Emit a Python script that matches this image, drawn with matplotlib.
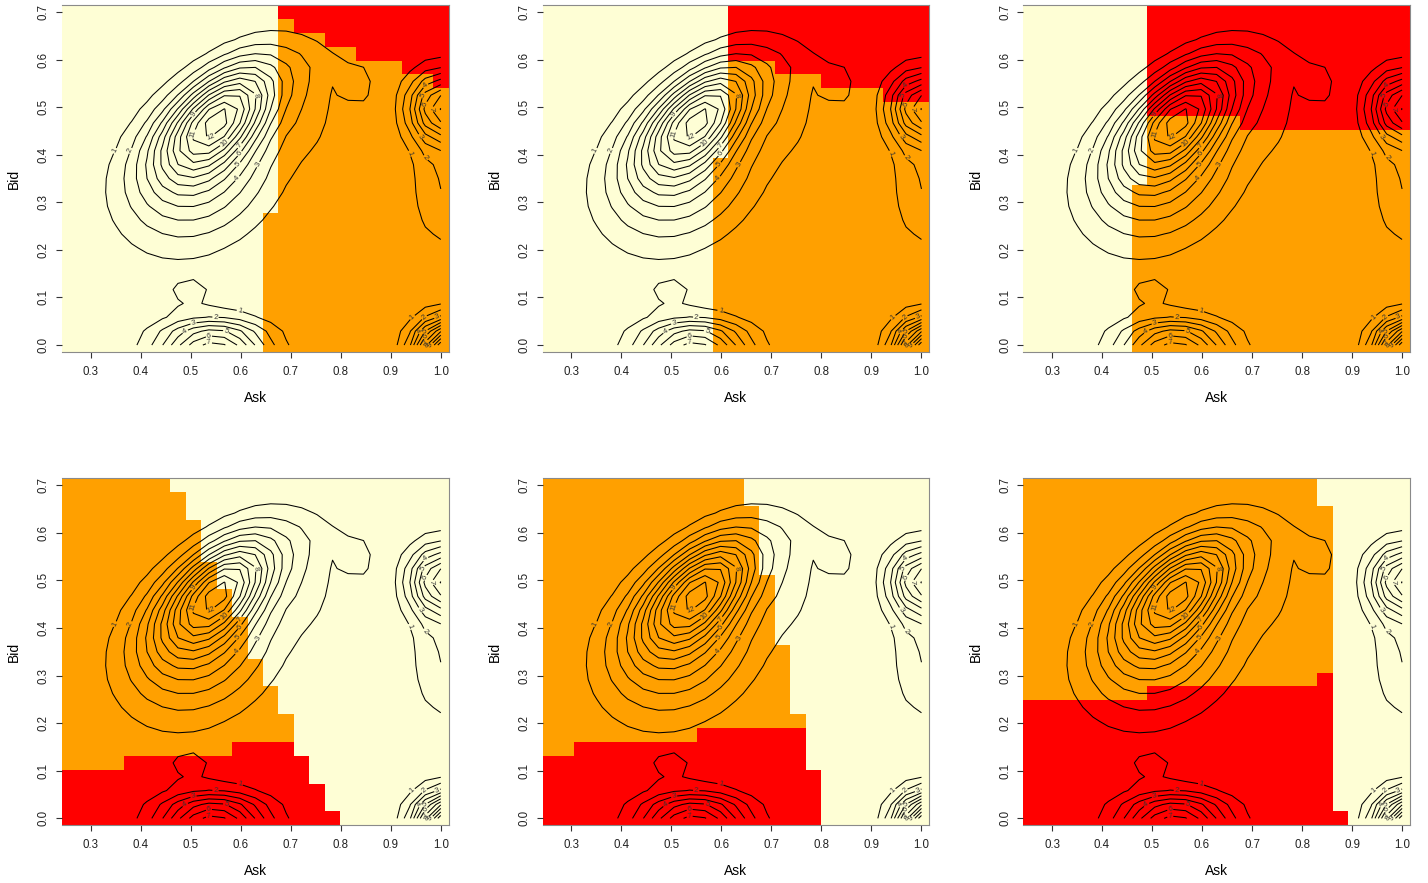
import numpy as np
import matplotlib
matplotlib.use("Agg")
import matplotlib.pyplot as plt
from matplotlib.colors import ListedColormap

plt.rcParams['font.family'] = ['Liberation Sans', 'DejaVu Sans']

# 25 x 25 grid shared by the class maps and the density
ask_grid = np.linspace(0.258, 1.0, 25)
bid_grid = np.linspace(0.0, 0.70, 25)

# class maps, top row first, run-length coded ("14Y 11R" = 14 pale cells, 11 red)
panel_1 = ["14Y 11R", "14Y 1O 10R", "14Y 3O 8R", "14Y 5O 6R", "14Y 8O 3R",
           "14Y 10O 1R"] + ["14Y 11O"] * 9 + ["13Y 12O"] * 10
panel_2 = ["12Y 13R"] * 4 + ["12Y 3O 10R", "12Y 6O 7R", "12Y 10O 3R"] + \
          ["12Y 13O"] * 4 + ["11Y 14O"] * 14
panel_3 = ["8Y 17R"] * 8 + ["8Y 6O 11R"] + ["8Y 17O"] * 4 + ["7Y 18O"] * 12
panel_4 = ["7O 18Y"] + ["8O 17Y"] * 2 + ["9O 16Y"] * 3 + ["10O 15Y"] * 2 + \
          ["11O 14Y"] * 2 + ["12O 13Y"] * 3 + ["13O 12Y"] * 2 + ["14O 11Y"] * 2 + \
          ["15O 10Y"] * 2 + ["11O 4R 10Y", "4O 12R 9Y", "16R 9Y", "17R 8Y", "17R 8Y", "18R 7Y"]
panel_5 = ["13O 12Y"] * 2 + ["14O 11Y"] * 5 + ["15O 10Y"] * 5 + ["16O 9Y"] * 5 + \
          ["17O 8Y", "10O 7R 8Y", "2O 15R 8Y", "17R 8Y"] + ["18R 7Y"] * 4
panel_6 = ["19O 6Y"] * 2 + ["20O 5Y"] * 12 + ["19O 1R 5Y", "8O 12R 5Y"] + \
          ["20R 5Y"] * 8 + ["21R 4Y"]
panels = [panel_1, panel_2, panel_3, panel_4, panel_5, panel_6]

class_codes = {'R': 0, 'O': 1, 'Y': 2}
class_colors = ['#FF0000', '#FFA000', '#FEFED5']

# density bumps
bump_ask = [0.56, 0.52, 0.74, 0.77, 0.835, 0.545, 0.50, 1.00, 1.00, 1.01]
bump_bid = [0.483, 0.36, 0.50, 0.60, 0.545, 0.0, 0.11, 0.50, 0.34, -0.01]
bump_su = [0.10, 0.115, 0.045, 0.055, 0.022, 0.075, 0.03, 0.044, 0.042, 0.042]
bump_sv = [0.052, 0.09, 0.08, 0.035, 0.035, 0.036, 0.02, 0.05, 0.10, 0.042]
bump_angle = [45, 45, 0, 0, 0, 0, 0, 0, 0, 0]
bump_height = [10.3, 4.5, 1.0, 0.6, 1.5, 7.4, 1.4, 7.5, 2.0, 12.5]
contour_levels = list(range(1, 15))

x_ticks = [0.3, 0.4, 0.5, 0.6, 0.7, 0.8, 0.9, 1.0]
y_ticks = [0.0, 0.1, 0.2, 0.3, 0.4, 0.5, 0.6, 0.7]


def decode(rows):
    out = []
    for row in rows[::-1]:
        cells = []
        for tok in row.split():
            cells += [class_codes[tok[-1]]] * int(tok[:-1])
        out.append(cells)
    return np.array(out)


X, Y = np.meshgrid(ask_grid, bid_grid)
dens = np.zeros_like(X)
for cx, cy, su, sv, ang, h in zip(bump_ask, bump_bid, bump_su, bump_sv, bump_angle, bump_height):
    a = np.deg2rad(ang)
    dx, dy = X - cx, Y - cy
    u = dx * np.cos(a) + dy * np.sin(a)
    v = -dx * np.sin(a) + dy * np.cos(a)
    dens += h * np.exp(-0.5 * ((u / su) ** 2 + (v / sv) ** 2))

step_x = ask_grid[1] - ask_grid[0]
step_y = bid_grid[1] - bid_grid[0]
ask_edges = np.append(ask_grid - step_x / 2, ask_grid[-1] + step_x / 2)
bid_edges = np.append(bid_grid - step_y / 2, bid_grid[-1] + step_y / 2)

fig = plt.figure(figsize=(14.28, 8.83), dpi=100)
W, H = 1428.0, 883.0
lefts = [62, 542.7, 1023.3]
tops = [5, 478.3]
aw, ah = 386.5, 347

cmap = ListedColormap(class_colors)

for k, grid in enumerate(panels):
    r, c = divmod(k, 3)
    ax = fig.add_axes([lefts[c] / W, 1 - (tops[r] + ah) / H, aw / W, ah / H])
    ax.pcolormesh(ask_edges, bid_edges, decode(grid), cmap=cmap, vmin=-0.5, vmax=2.5)
    cs = ax.contour(ask_grid, bid_grid, dens, levels=contour_levels,
                    colors='black', linewidths=0.75)
    ax.clabel(cs, fmt='%d', fontsize=5.5, inline=True, inline_spacing=1, colors='#333333')
    ax.set_xlim(ask_edges[0], ask_edges[-1])
    ax.set_ylim(bid_edges[0], bid_edges[-1])
    ax.set_xticks(x_ticks)
    ax.set_xticklabels(['%.1f' % t for t in x_ticks])
    ax.set_yticks(y_ticks)
    ax.set_yticklabels(['%.1f' % t for t in y_ticks], rotation=90, va='center')
    ax.tick_params(axis='x', length=4.5, width=0.8, pad=5.5, labelsize=8.3, color='#333333', labelcolor='#222222')
    ax.tick_params(axis='y', length=4.5, width=0.8, pad=4.2, labelsize=8.3, color='#333333', labelcolor='#222222')
    for side in ['top', 'right', 'bottom']:
        ax.spines[side].set_color('#8a8a8a')
        ax.spines[side].set_linewidth(0.8)
    ax.spines['left'].set_visible(False)
    ax.text(0.5, -0.1326, 'Ask', transform=ax.transAxes, ha='center', va='center', fontsize=10)
    ax.text(-0.1237, 0.5, 'Bid', transform=ax.transAxes, ha='center', va='center', fontsize=10, rotation=90)

fig.savefig('out.png', dpi=100)
